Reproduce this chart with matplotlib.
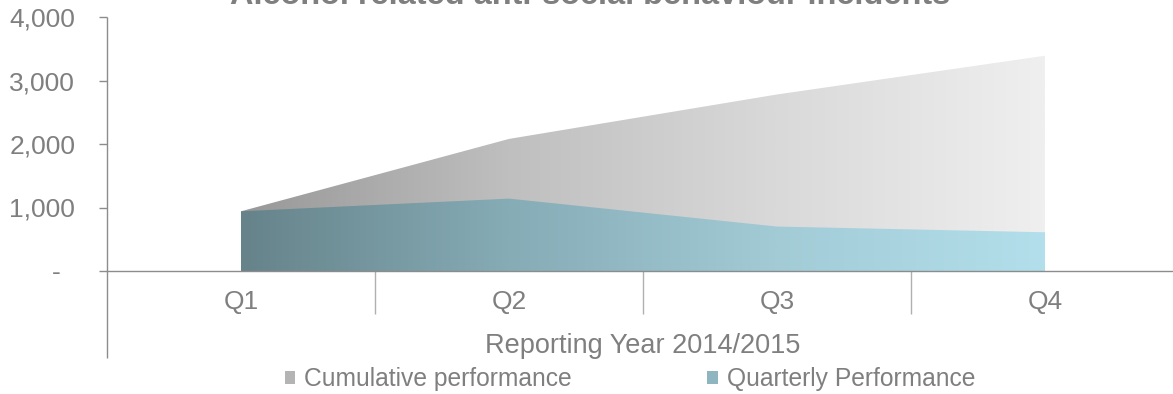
import numpy as np
import matplotlib
matplotlib.use("Agg")
import matplotlib.pyplot as plt
from matplotlib.colors import LinearSegmentedColormap
from matplotlib.patches import Rectangle
from matplotlib.transforms import blended_transform_factory

# Alcohol related anti-social behaviour incidents, 2014/2015
quarters = ["Q1", "Q2", "Q3", "Q4"]
cumulative = [940, 2080, 2780, 3390]
quarterly = [940, 1140, 700, 610]
y_ticks = [0, 1000, 2000, 3000, 4000]
y_tick_labels = ["-  ", "1,000", "2,000", "3,000", "4,000"]
title = "Alcohol related anti-social behaviour incidents"
x_title = "Reporting Year 2014/2015"
series_names = ["Cumulative performance", "Quarterly Performance"]

plt.rcParams["font.family"] = ["Liberation Sans", "DejaVu Sans"]
TEXT = "#7f7f7f"
AXIS = "#8c8c8c"

W, H = 1173, 394
fig = plt.figure(figsize=(W / 100, H / 100), dpi=100)
ax = fig.add_axes([107 / W, (H - 271) / H, 1072 / W, 254 / H])

x = np.arange(len(quarters))


def gradient_area(values, colors, zorder):
    poly = ax.fill_between(x, 0, values, facecolor="none", edgecolor="none")
    path = poly.get_paths()[0]
    stops = np.linspace(0, 1, len(colors))
    cmap = LinearSegmentedColormap.from_list("g", list(zip(stops, colors)))
    grad = np.linspace(0, 1, 600).reshape(1, -1)
    im = ax.imshow(grad, cmap=cmap, extent=[x[0], x[-1], 0, max(values)],
                   aspect="auto", origin="lower", interpolation="bilinear",
                   zorder=zorder)
    im.set_clip_path(path, ax.transData)


gradient_area(cumulative, ["#989898", "#bfbfbf", "#d9d9d9", "#efefef"], 1)
gradient_area(quarterly, ["#66838a", "#86acb6", "#a2cbd6", "#b2dfeb"], 2)

ax.set_xlim(-0.5, len(quarters) - 0.5)
ax.set_ylim(0, 4000)

for side in ("top", "right", "left"):
    ax.spines[side].set_visible(False)
ax.spines["bottom"].set_color(AXIS)
ax.spines["bottom"].set_linewidth(1.0)
ax.spines["bottom"].set_zorder(3)

# value axis line continues down through the category label band
ax.plot([0, 0], [-0.3425, 1], transform=ax.transAxes, color=AXIS,
        lw=1.0, clip_on=False, solid_capstyle="butt", zorder=3)
# category dividers
bt = blended_transform_factory(ax.transData, ax.transAxes)
for d in x[:-1] + 0.5:
    ax.plot([d, d], [0, -0.169], transform=bt, color="#b0b0b0", lw=1.0,
            clip_on=False, solid_capstyle="butt")

ax.set_yticks(y_ticks)
ax.set_yticklabels(y_tick_labels)
ax.tick_params(axis="y", direction="out", length=5.8, width=1.0, color=AXIS,
               labelcolor=TEXT, labelsize=19, pad=17)
ax.set_xticks(x)
ax.set_xticklabels(quarters)
ax.tick_params(axis="x", length=0, labelcolor=TEXT, labelsize=19, pad=14)

ax.set_xlabel(x_title, color=TEXT, fontsize=19.5, va="center")
ax.xaxis.set_label_coords(0.5, (271 - 346) / 254)

fig.text(590 / W, 1 - 4 / H, title, ha="center", va="baseline",
         fontsize=23.4, fontweight="bold", color=TEXT)

handles = [Rectangle((0, 0), 1, 1, facecolor="#b4b4b4", edgecolor="none"),
           Rectangle((0, 0), 1, 1, facecolor="#8fb6c0", edgecolor="none")]
leg = fig.legend(handles, series_names, loc="center", ncol=2,
                 bbox_to_anchor=(630 / W, 1 - 379 / H), frameon=False,
                 fontsize=17.7, handlelength=0.42, handleheight=0.42,
                 handletextpad=0.37, columnspacing=5.5, borderpad=0,
                 borderaxespad=0)
for t in leg.get_texts():
    t.set_color(TEXT)

fig.savefig("out.png", dpi=100)
